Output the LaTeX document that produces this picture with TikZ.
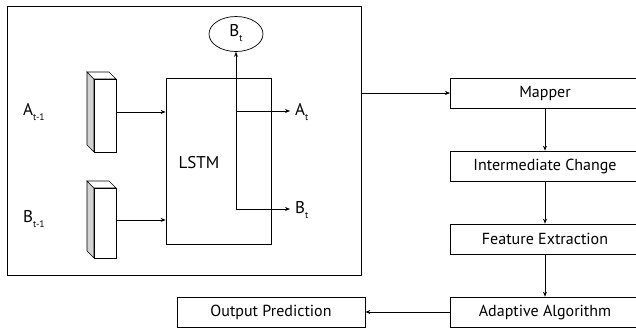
\documentclass[tikz,border=0pt]{standalone}
\usepackage{fontspec}
\setmainfont{PT Sans}
\usetikzlibrary{arrows.meta,shapes.geometric}
\tikzset{
  px/.style={x=1pt,y=-1pt},
  conn/.style={draw=black,line width=0.7pt,-{Stealth[length=5pt,width=4pt]}},
  flowbox/.style={draw=black,line width=0.7pt,minimum height=30pt,inner sep=0pt,font=\fontsize{16}{18}\selectfont},
  lbl/.style={font=\fontsize{17}{19}\selectfont,inner sep=0pt},
  frame/.style={draw=black,line width=0.8pt},
}
\newcommand{\sbs}[1]{\raisebox{-0.6ex}{\fontsize{9.5}{10}\selectfont #1}}
\begin{document}
\begin{tikzpicture}[px]
\useasboundingbox (0,0) rectangle (636,330);
% outer frame
\node[frame,minimum width=354pt,minimum height=269pt,inner sep=0pt] (outer) at (184,141) {};
% LSTM
\node[draw=black,line width=0.7pt,minimum width=105pt,minimum height=166pt,inner sep=0pt] (lstm) at (218.5,161) {};
\node[lbl] (lstmtxt) at (199,163) {LSTM};
% cubes
\foreach \n/\yt/\yb in {cA/79/152,cB/188/258}{
  \fill[gray!35] (87,\yt-7) -- (94,\yt) -- (94,\yb) -- (87,\yb-7) -- cycle;
  \draw[line width=0.6pt] (87,\yt-7) -- (94,\yt) -- (94,\yb) -- (87,\yb-7) -- cycle;
  \draw[line width=0.6pt,fill=white] (87,\yt-7) -- (109,\yt-7) -- (116,\yt) -- (94,\yt) -- cycle;
  \node[draw=black,line width=0.6pt,fill=white,inner sep=0pt,minimum width=22pt,minimum height=\yb-\yt] (\n) at (105,{(\yt+\yb)/2}) {};
}
% labels
\node[lbl,anchor=west] (la) at (23,112) {A\sbs{t-1}};
\node[lbl,anchor=west] (lb) at (23,219) {B\sbs{t-1}};
\node[lbl,anchor=west] (lat) at (295,112) {A\sbs{t}};
\node[lbl,anchor=west] (lbt) at (295,210) {B\sbs{t}};
\node[ellipse,draw=black,line width=0.7pt,minimum width=54pt,minimum height=35pt,inner sep=0pt] (ell) at (236,34) {};
\node[lbl] (elltxt) at (236,33) {B\sbs{t}};
% arrows into LSTM
\coordinate (ina) at (lstm.west |- 0,112);
\coordinate (inb) at (lstm.west |- 0,220);
\draw[conn] (cA.east |- ina) -- (ina);
\draw[conn] (cB.east |- inb) -- (inb);
% vertical line and outputs
\coordinate (jb) at (236,209);
\coordinate (ja) at (236,111);
\coordinate (oa) at (290,111);
\coordinate (ob) at (290,209);
\draw[conn] (jb) -- (ell.south);
\draw[conn] (ja) -- (oa);
\draw[conn] (jb) -- (ob);
% right column
\node[flowbox,minimum width=190pt] (map) at (545,93) {Mapper};
\node[flowbox,minimum width=190pt] (inter) at (545,166) {Intermediate Change};
\node[flowbox,minimum width=190pt] (feat) at (545,239) {Feature Extraction};
\node[flowbox,minimum width=190pt] (adapt) at (545,312) {Adaptive Algorithm};
\node[flowbox,minimum width=188pt] (outp) at (271,312) {Output Prediction};
\draw[conn] (outer.east |- map.west) -- (map.west -| 450,0);
\draw[conn] (map.south -| 545,0) -- (inter.north -| 545,0);
\draw[conn] (inter.south -| 545,0) -- (feat.north -| 545,0);
\draw[conn] (feat.south -| 545,0) -- (adapt.north -| 545,0);
\draw[conn] (adapt.west -| 450,0) -- (outp.east);
\end{tikzpicture}
\end{document}
